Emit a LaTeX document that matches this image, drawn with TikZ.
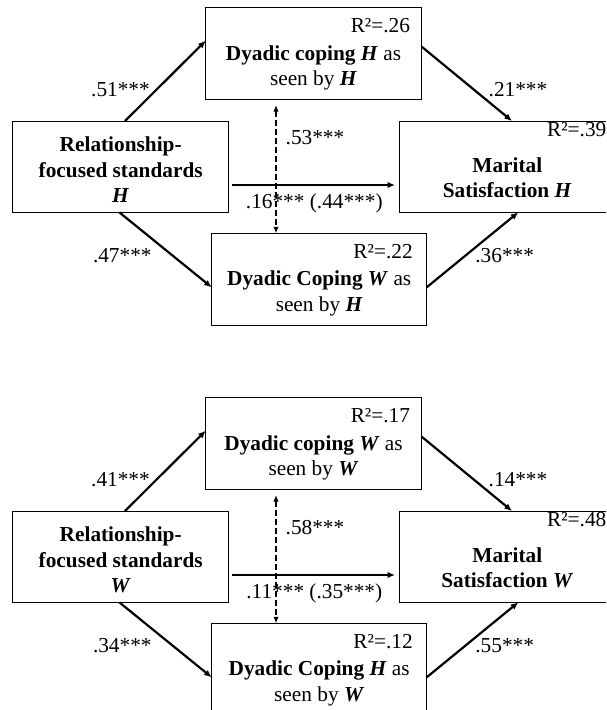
\documentclass[tikz,border=0pt]{standalone}
\usepackage{fontspec}
\setmainfont{Liberation Serif}
\usetikzlibrary{calc,arrows.meta}
\begin{document}
\begin{tikzpicture}[x=1pt,y=-1pt,
  box/.style={draw, line width=1pt, inner sep=0pt, outer sep=0pt, anchor=north west},
  txt/.style={font=\fontsize{21.3}{26}\selectfont, inner sep=0pt, outer sep=0pt, anchor=base},
  rsq/.style={txt, anchor=base east},
  lbl/.style={txt, anchor=base},
  arr/.style={line width=2.2pt, -{Latex[length=7.5pt,width=6.5pt]}},
  darr/.style={line width=1.8pt, dash pattern=on 6pt off 3pt, {Latex[length=6.5pt,width=5.5pt]}-{Latex[length=6.5pt,width=5.5pt]}},
]
\useasboundingbox (0,0) rectangle (606,710);
\fill[white] (0,0) rectangle (606,710);
\clip (0,0) rectangle (606,710);

% ---------------- top panel ----------------
\node[box, minimum width=215.6pt, minimum height=91.7pt] (T1) at (205.7,7.3) {};
\node[box, minimum width=216pt, minimum height=91.3pt] (L1) at (12.7,121) {};
\node[box, minimum width=216pt, minimum height=91.3pt] (R1) at (399.3,121) {};
\node[box, minimum width=215pt, minimum height=91.7pt] (B1) at (211.7,233.3) {};

\node[rsq] (T1r) at ($(T1.north east)+(-11.3,25)$) {R²=.26};
\node[txt] (T1a) at ($(T1.north)+(0,52.7)$) {\textbf{Dyadic coping \textit{H}} as};
\node[txt] (T1b) at ($(T1.north)+(0,77.7)$) {seen by \textbf{\textit{H}}};

\node[txt] (L1a) at ($(L1.north)+(0,30)$) {\textbf{Relationship-}};
\node[txt] (L1b) at ($(L1.north)+(0,56)$) {\textbf{focused standards}};
\node[txt] (L1c) at ($(L1.north)+(0,81)$) {\textbf{\textit{H}}};

\node[rsq] (R1r) at ($(R1.north east)+(-9,15.8)$) {R²=.39};
\node[txt] (R1a) at ($(R1.north)+(0,51.6)$) {\textbf{Marital}};
\node[txt] (R1b) at ($(R1.north)+(0,76.6)$) {\textbf{Satisfaction \textit{H}}};

\node[rsq] (B1r) at ($(B1.north east)+(-14,25)$) {R²=.22};
\node[txt] (B1a) at ($(B1.north)+(0,51.7)$) {\textbf{Dyadic Coping \textit{W}} as};
\node[txt] (B1b) at ($(B1.north)+(0,77.7)$) {seen by \textbf{\textit{H}}};

\node[lbl] (a1) at (120.5,96.5) {.51***};
\node[lbl] (b1) at (518,96.7) {.21***};
\node[lbl] (c1) at (315,144) {.53***};
\node[lbl] (d1) at (314.3,208.3) {.16*** (.44***)};
\node[lbl] (e1) at (122.3,262.7) {.47***};
\node[lbl] (f1) at (504.7,262.7) {.36***};

\draw[arr] ($(L1.north)+(4.3,0)$) -- ($(T1.west)+(0,-12.45)$);
\draw[arr] ($(T1.east)+(0.4,-6.45)$) -- ($(R1.north)+(4.7,0)$);
\draw[arr] ($(L1.east)+(3.3,18.35)$) -- ($(R1.west)+(-4.3,18.35)$);
\draw[darr] ($(T1.south)+(-37.5,6)$) -- ($(B1.north)+(-43.2,0)$);
\draw[arr] ($(L1.south)+(-1.4,0)$) -- ($(B1.west)+(0,8.15)$);
\draw[arr] ($(B1.east)+(0,8.15)$) -- ($(R1.south)+(11,0)$);

% ---------------- bottom panel ----------------
\node[box, minimum width=215.6pt, minimum height=91.7pt] (T2) at (205.7,397.3) {};
\node[box, minimum width=216pt, minimum height=91.3pt] (L2) at (12.7,511) {};
\node[box, minimum width=216pt, minimum height=91.3pt] (R2) at (399.3,511) {};
\node[box, minimum width=215pt, minimum height=91.7pt] (B2) at (211.7,623.3) {};

\node[rsq] (T2r) at ($(T2.north east)+(-11.3,25)$) {R²=.17};
\node[txt] (T2a) at ($(T2.north)+(0,52.7)$) {\textbf{Dyadic coping \textit{W}} as};
\node[txt] (T2b) at ($(T2.north)+(0,77.7)$) {seen by \textbf{\textit{W}}};

\node[txt] (L2a) at ($(L2.north)+(0,30)$) {\textbf{Relationship-}};
\node[txt] (L2b) at ($(L2.north)+(0,56)$) {\textbf{focused standards}};
\node[txt] (L2c) at ($(L2.north)+(0,81)$) {\textbf{\textit{W}}};

\node[rsq] (R2r) at ($(R2.north east)+(-9,15.3)$) {R²=.48};
\node[txt] (R2a) at ($(R2.north)+(0,51.6)$) {\textbf{Marital}};
\node[txt] (R2b) at ($(R2.north)+(0,76.6)$) {\textbf{Satisfaction \textit{W}}};

\node[rsq] (B2r) at ($(B2.north east)+(-14,25)$) {R²=.12};
\node[txt] (B2a) at ($(B2.north)+(0,51.7)$) {\textbf{Dyadic Coping \textit{H}} as};
\node[txt] (B2b) at ($(B2.north)+(0,77.7)$) {seen by \textbf{\textit{W}}};

\node[lbl] (a2) at (120.5,486.5) {.41***};
\node[lbl] (b2) at (518,486.7) {.14***};
\node[lbl] (c2) at (315,534) {.58***};
\node[lbl] (d2) at (314.3,598.3) {.11*** (.35***)};
\node[lbl] (e2) at (122.3,652.7) {.34***};
\node[lbl] (f2) at (504.7,652.7) {.55***};

\draw[arr] ($(L2.north)+(4.3,0)$) -- ($(T2.west)+(0,-12.45)$);
\draw[arr] ($(T2.east)+(0.4,-6.45)$) -- ($(R2.north)+(4.7,0)$);
\draw[arr] ($(L2.east)+(3.3,18.35)$) -- ($(R2.west)+(-4.3,18.35)$);
\draw[darr] ($(T2.south)+(-37.5,6)$) -- ($(B2.north)+(-43.2,0)$);
\draw[arr] ($(L2.south)+(-1.4,0)$) -- ($(B2.west)+(0,8.15)$);
\draw[arr] ($(B2.east)+(0,8.15)$) -- ($(R2.south)+(11,0)$);
\end{tikzpicture}
\end{document}
